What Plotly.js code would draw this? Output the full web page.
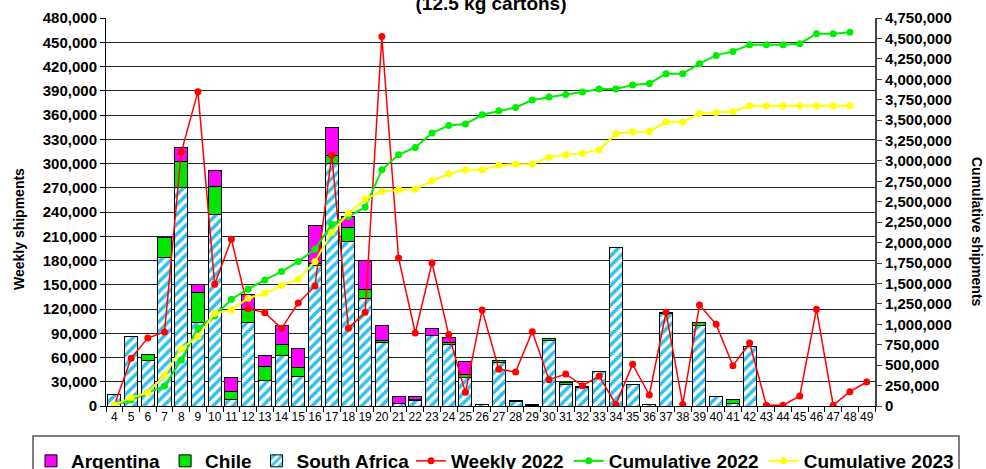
<!DOCTYPE html>
<html>
<head>
<meta charset="utf-8">
<script src="https://cdn.plot.ly/plotly-3.0.1.min.js"></script>
<style>
html,body{margin:0;padding:0;background:#fff;}
#chart{width:986px;height:469px;}
</style>
</head>
<body>
<div id="chart"></div>
<script>
const weeks = ["4","5","6","7","8","9","10","11","12","13","14","15","16","17","18","19","20","21","22","23","24","25","26","27","28","29","30","31","32","33","34","35","36","37","38","39","40","41","42","43","44","45","46","47","48","49"];

const southAfrica = [14400,85800,55700,184000,270500,103000,237500,7500,103000,31500,63000,37000,173500,299500,204000,133000,79000,3300,6500,87400,76000,35000,2100,54000,5500,1000,81500,27000,23500,43000,196000,26000,1500,114000,0,99000,11500,3500,74000,0,0,0,0,0,0,0];
const chile = [0,0,8000,25000,32200,37500,34000,10000,16500,17000,12500,10800,2500,10500,16500,11000,2000,0,2000,0,2000,3500,0,1700,1500,1000,2000,2000,1000,0,0,0,0,2000,0,4000,0,4000,0,0,0,0,0,0,0,0];
const argentina = [0,0,0,0,17000,10000,20000,18000,19000,14000,24700,23500,47500,34000,14000,36000,19000,9000,3500,8200,7000,16000,0,0,0,0,0,0,0,0,0,0,0,0,0,0,0,0,0,0,0,0,0,0,0,0];

const weekly2022 = [1000,59000,84100,91500,313800,388900,150500,206200,120400,115500,96100,127400,148500,310100,96100,115900,457000,183100,90300,176900,88300,16900,118800,45400,42100,92000,32600,39600,25200,37100,2000,51500,13600,115900,2000,125000,101000,49900,77900,1000,1000,12400,119600,1000,17700,29700];

const cumulative2022 = [10000,73500,163000,245000,563600,951600,1102700,1306900,1429400,1543700,1645800,1768400,1919500,2225800,2319700,2434100,2891500,3075300,3165100,3340700,3434600,3451000,3565300,3614300,3655200,3745000,3781800,3814500,3843000,3879800,3879800,3928800,3949200,4067700,4067700,4190200,4292300,4341300,4423000,4423000,4423000,4435200,4557700,4557700,4574100,null];

const cumulative2023 = [14000,102100,163400,375700,702400,849500,1135400,1176200,1319100,1380400,1474300,1551900,1768400,2123700,2360600,2532100,2630100,2646400,2654600,2756700,2842500,2891500,2891500,2948600,2960900,2960900,3046700,3075300,3095700,3136500,3332500,3357000,3361100,3475500,3475500,3581700,3594000,3606200,3675600,3675600,3675600,3675600,3675600,3675600,3675600,null];

const FONT = "Liberation Sans, Arial, sans-serif";
const tickFont = {family:FONT, size:15, color:"#000", weight:"bold"};

const traces = [
  {type:"bar", name:"South Africa", x:weeks, y:southAfrica, legendrank:3, legend:"legend",
   marker:{color:"#ffffff", line:{color:"#000", width:1},
     pattern:{shape:"/", fgcolor:"#2fc0ee", bgcolor:"#ffffff", size:7, solidity:0.5}}},
  {type:"bar", name:"Chile", x:weeks, y:chile, legendrank:2, legend:"legend",
   marker:{color:"#00e600", line:{color:"#000", width:1}}},
  {type:"bar", name:"Argentina", x:weeks, y:argentina, legendrank:1, legend:"legend",
   marker:{color:"#ff00ff", line:{color:"#000", width:1}}},
  {type:"scatter", mode:"lines+markers", name:"Weekly 2022", x:weeks, y:weekly2022, legendrank:4, legend:"legend2",
   line:{color:"#ff0000", width:1.5}, marker:{color:"#ff0000", size:7}},
  {type:"scatter", mode:"lines+markers", name:"Cumulative 2022", x:weeks, y:cumulative2022, yaxis:"y2", legendrank:5, legend:"legend2",
   line:{color:"#00ee00", width:2}, marker:{color:"#00ee00", size:7}},
  {type:"scatter", mode:"lines+markers", name:"Cumulative 2023", x:weeks, y:cumulative2023, yaxis:"y2", legendrank:6, legend:"legend2",
   line:{color:"#ffff00", width:2}, marker:{color:"#ffff00", size:7}}
];

const W = 986, H = 469, L = 106, R = 111, T = 18, B = 63;
const pw = W - L - R, ph = H - T - B;
const px = v => (v - L) / pw;
const py = v => (H - B - v) / ph;

const legendFont = {family:FONT, size:19, color:"#000", weight:"bold"};

const layout = {
  width: W, height: H,
  margin: {l:L, r:R, t:T, b:B, autoexpand:false},
  paper_bgcolor: "#fff", plot_bgcolor: "#fff",
  barmode: "stack", bargap: 0.22,
  showlegend: true,
  title: {text:"(12.5 kg cartons)", x: 491/W, xanchor:"center", y: 1 - 3/H, yref:"container", yanchor:"middle",
    font:{family:FONT, size:19, color:"#000", weight:"bold"}},
  xaxis: {type:"category", showline:true, linecolor:"#000", linewidth:1, ticks:"outside", ticklen:5, tickcolor:"#000",
    tickson:"boundaries", showgrid:false, tickfont:{family:FONT, size:12, color:"#000"},
    tickangle:0, range:[-0.5, 45.5]},
  yaxis: {range:[0,480000], dtick:30000, tickformat:",d", showline:true, linecolor:"#000", linewidth:1,
    ticks:"outside", ticklen:5, tickcolor:"#000", showgrid:true, gridcolor:"#222", gridwidth:1,
    zeroline:false, tickfont:tickFont},
  yaxis2: {overlaying:"y", side:"right", range:[0,4750000], dtick:250000, tickformat:",d", showgrid:false,
    showline:true, linecolor:"#444", linewidth:2, ticks:"outside", ticklen:5, tickcolor:"#444", zeroline:false,
    tickfont:tickFont},
  legend: {orientation:"h", x: px(31), xanchor:"left", y: py(461), yanchor:"middle",
    bgcolor:"rgba(0,0,0,0)", borderwidth:0, traceorder:"normal", font:legendFont},
  legend2: {orientation:"h", x: px(411), xanchor:"left", y: py(461), yanchor:"middle",
    bgcolor:"rgba(0,0,0,0)", borderwidth:0, traceorder:"normal", font:legendFont},
  shapes: [
    {type:"rect", xref:"paper", yref:"paper", x0:px(33), x1:px(959), y0:py(436), y1:py(480),
     line:{color:"#555", width:1.5}, fillcolor:"rgba(0,0,0,0)", layer:"below"}
  ],
  annotations: [
    {text:"Weekly shipments", xref:"paper", yref:"paper", x:px(19), y:py(229), textangle:-90, showarrow:false,
     xanchor:"center", yanchor:"middle", font:{family:FONT, size:14, color:"#000", weight:"bold"}},
    {text:"Cumulative shipments", xref:"paper", yref:"paper", x:px(977), y:py(232), textangle:90, showarrow:false,
     xanchor:"center", yanchor:"middle", font:{family:FONT, size:14, color:"#000", weight:"bold"}}
  ]
};

Plotly.newPlot("chart", traces, layout, {displayModeBar:false, staticPlot:true});
</script>
</body>
</html>
